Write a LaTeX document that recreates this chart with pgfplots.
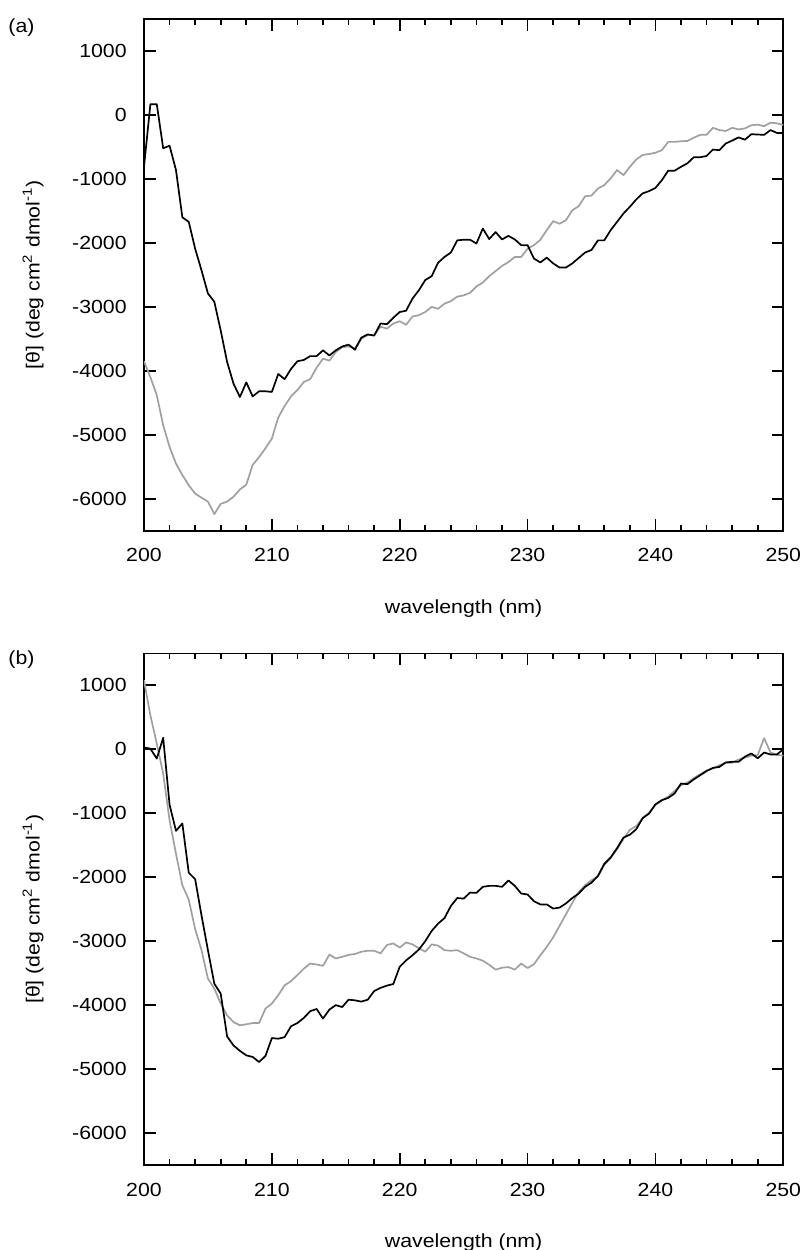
\documentclass[border=0pt]{standalone}
\usepackage{fontspec}
\setmainfont{Liberation Sans}[FakeStretch=1.12]
\usepackage{pgfplots}
\usepackage{pgfplotstable}
\pgfplotsset{compat=1.18}
\definecolor{lgray}{RGB}{160,160,160}

\pgfplotstableread{
x y
200 -810
200.5 170
201 170
201.5 -520
202 -480
202.5 -860
203 -1600
203.5 -1670
204 -2090
204.5 -2430
205 -2790
205.5 -2920
206 -3370
206.5 -3860
207 -4200
207.5 -4410
208 -4180
208.5 -4400
209 -4320
209.5 -4320
210 -4330
210.5 -4050
211 -4130
211.5 -3970
212 -3850
212.5 -3830
213 -3770
213.5 -3770
214 -3680
214.5 -3760
215 -3680
215.5 -3620
216 -3590
216.5 -3670
217 -3480
217.5 -3430
218 -3450
218.5 -3260
219 -3270
219.5 -3170
220 -3080
220.5 -3060
221 -2870
221.5 -2740
222 -2580
222.5 -2520
223 -2310
223.5 -2220
224 -2150
224.5 -1960
225 -1950
225.5 -1950
226 -2010
226.5 -1775
227 -1940
227.5 -1830
228 -1945
228.5 -1890
229 -1945
229.5 -2035
230 -2035
230.5 -2245
231 -2305
231.5 -2230
232 -2320
232.5 -2385
233 -2385
233.5 -2320
234 -2235
234.5 -2150
235 -2110
235.5 -1960
236 -1960
236.5 -1800
237 -1670
237.5 -1540
238 -1435
238.5 -1320
239 -1225
239.5 -1190
240 -1140
240.5 -1020
241 -870
241.5 -870
242 -810
242.5 -755
243 -660
243.5 -660
244 -640
244.5 -540
245 -550
245.5 -445
246 -400
246.5 -350
247 -385
247.5 -300
248 -305
248.5 -310
249 -235
249.5 -280
250 -280
}\ablack

\pgfplotstableread{
x y
200 -3850
200.5 -4100
201 -4380
201.5 -4850
202 -5190
202.5 -5450
203 -5630
203.5 -5790
204 -5920
204.5 -5985
205 -6045
205.5 -6240
206 -6080
206.5 -6045
207 -5970
207.5 -5855
208 -5780
208.5 -5470
209 -5350
209.5 -5210
210 -5060
210.5 -4730
211 -4550
211.5 -4400
212 -4300
212.5 -4175
213 -4130
213.5 -3950
214 -3810
214.5 -3840
215 -3705
215.5 -3630
216 -3620
216.5 -3650
217 -3500
217.5 -3440
218 -3440
218.5 -3310
219 -3340
219.5 -3260
220 -3225
220.5 -3280
221 -3150
221.5 -3130
222 -3080
222.5 -3000
223 -3030
223.5 -2950
224 -2910
224.5 -2840
225 -2820
225.5 -2780
226 -2680
226.5 -2620
227 -2520
227.5 -2440
228 -2360
228.5 -2300
229 -2220
229.5 -2220
230 -2090
230.5 -2035
231 -1950
231.5 -1800
232 -1660
232.5 -1700
233 -1645
233.5 -1490
234 -1425
234.5 -1270
235 -1260
235.5 -1150
236 -1095
236.5 -990
237 -860
237.5 -940
238 -810
238.5 -695
239 -625
239.5 -610
240 -590
240.5 -550
241 -420
241.5 -420
242 -410
242.5 -405
243 -355
243.5 -310
244 -310
244.5 -200
245 -235
245.5 -250
246 -200
246.5 -225
247 -210
247.5 -160
248 -150
248.5 -175
249 -120
249.5 -130
250 -155
}\agray

\pgfplotstableread{
x y
200 30
200.5 10
201 -145
201.5 180
202 -865
202.5 -1275
203 -1160
203.5 -1930
204 -2030
204.5 -2600
205 -3140
205.5 -3665
206 -3820
206.5 -4490
207 -4630
207.5 -4715
208 -4785
208.5 -4810
209 -4890
209.5 -4795
210 -4515
210.5 -4525
211 -4500
211.5 -4330
212 -4280
212.5 -4200
213 -4095
213.5 -4060
214 -4210
214.5 -4070
215 -4000
215.5 -4030
216 -3915
216.5 -3925
217 -3945
217.5 -3915
218 -3780
218.5 -3730
219 -3695
219.5 -3670
220 -3400
220.5 -3300
221 -3220
221.5 -3130
222 -3000
222.5 -2840
223 -2725
223.5 -2640
224 -2450
224.5 -2325
225 -2335
225.5 -2240
226 -2245
226.5 -2150
227 -2135
227.5 -2135
228 -2150
228.5 -2050
229 -2135
229.5 -2255
230 -2270
230.5 -2375
231 -2425
231.5 -2425
232 -2490
232.5 -2475
233 -2410
233.5 -2325
234 -2255
234.5 -2150
235 -2085
235.5 -1980
236 -1790
236.5 -1690
237 -1545
237.5 -1380
238 -1335
238.5 -1250
239 -1075
239.5 -1005
240 -860
240.5 -795
241 -760
241.5 -690
242 -535
242.5 -545
243 -470
243.5 -405
244 -340
244.5 -290
245 -275
245.5 -205
246 -195
246.5 -195
247 -115
247.5 -65
248 -140
248.5 -50
249 -80
249.5 -80
250 0
}\bblack

\pgfplotstableread{
x y
200 1080
200.5 530
201 90
201.5 -380
202 -1110
202.5 -1630
203 -2125
203.5 -2350
204 -2810
204.5 -3140
205 -3585
205.5 -3740
206 -3975
206.5 -4160
207 -4265
207.5 -4315
208 -4300
208.5 -4280
209 -4280
209.5 -4055
210 -3975
210.5 -3845
211 -3690
211.5 -3625
212 -3530
212.5 -3430
213 -3350
213.5 -3365
214 -3385
214.5 -3210
215 -3270
215.5 -3245
216 -3215
216.5 -3200
217 -3165
217.5 -3150
218 -3150
218.5 -3190
219 -3060
219.5 -3035
220 -3100
220.5 -3020
221 -3050
221.5 -3110
222 -3165
222.5 -3050
223 -3070
223.5 -3140
224 -3150
224.5 -3140
225 -3190
225.5 -3245
226 -3270
226.5 -3305
227 -3370
227.5 -3445
228 -3415
228.5 -3405
229 -3445
229.5 -3350
230 -3420
230.5 -3360
231 -3220
231.5 -3090
232 -2940
232.5 -2760
233 -2580
233.5 -2400
234 -2230
234.5 -2125
235 -2045
235.5 -1990
236 -1810
236.5 -1700
237 -1560
237.5 -1400
238 -1260
238.5 -1200
239 -1080
239.5 -990
240 -870
240.5 -800
241 -740
241.5 -650
242 -560
242.5 -520
243 -450
243.5 -390
244 -330
244.5 -300
245 -250
245.5 -210
246 -210
246.5 -160
247 -130
247.5 -100
248 -90
248.5 175
249 -50
249.5 -85
250 -100
}\bgray

\pgfplotsset{
  cdstyle/.style={
    scale only axis,
    width=319.65pt, height=255.8pt,
    xmin=200, xmax=250, ymin=-6500, ymax=1500,
    xtick={200,210,220,230,240,250},
    minor x tick num=4,
    ytick={-6000,-5000,-4000,-3000,-2000,-1000,0,1000},
    tick align=inside,
    major tick length=5.8pt,
    minor tick length=3pt,
    axis line style={line width=0.9pt},
    every tick/.style={black, line width=0.9pt},
    xticklabel shift=5.5pt,
    yticklabel shift=5.3pt,
    scaled ticks=false,
    /pgf/number format/assume math mode=true,
    /pgf/number format/1000 sep={},
    xlabel={wavelength (nm)},
    ylabel={[θ] (deg cm\textsuperscript{2} dmol\textsuperscript{-1})},
    xlabel style={at={(axis description cs:0.5,-0.1517)}, anchor=center},
    ylabel style={at={(axis description cs:-0.1736,0.5)}, anchor=center, rotate=0},
    clip=true,
  },
  blackline/.style={black, line width=0.85pt, no markers, line join=round},
  grayline/.style={lgray, line width=0.85pt, no markers, line join=round},
}

\begin{document}
\fontsize{9.5pt}{11.4pt}\selectfont
\begin{tikzpicture}
\path[use as bounding box] (0,0) rectangle (400.5pt,625pt);
\begin{axis}[cdstyle, at={(72pt,359.65pt)}, anchor=south west]
\addplot[grayline] table[x=x,y=y] {\agray};
\addplot[blackline] table[x=x,y=y] {\ablack};
\end{axis}
\begin{axis}[cdstyle, at={(72pt,42.5pt)}, anchor=south west]
\addplot[grayline] table[x=x,y=y] {\bgray};
\addplot[blackline] table[x=x,y=y] {\bblack};
\end{axis}
\node at (10.75pt,611.25pt) {(a)};
\node at (10.75pt,295pt) {(b)};
\end{tikzpicture}
\end{document}
